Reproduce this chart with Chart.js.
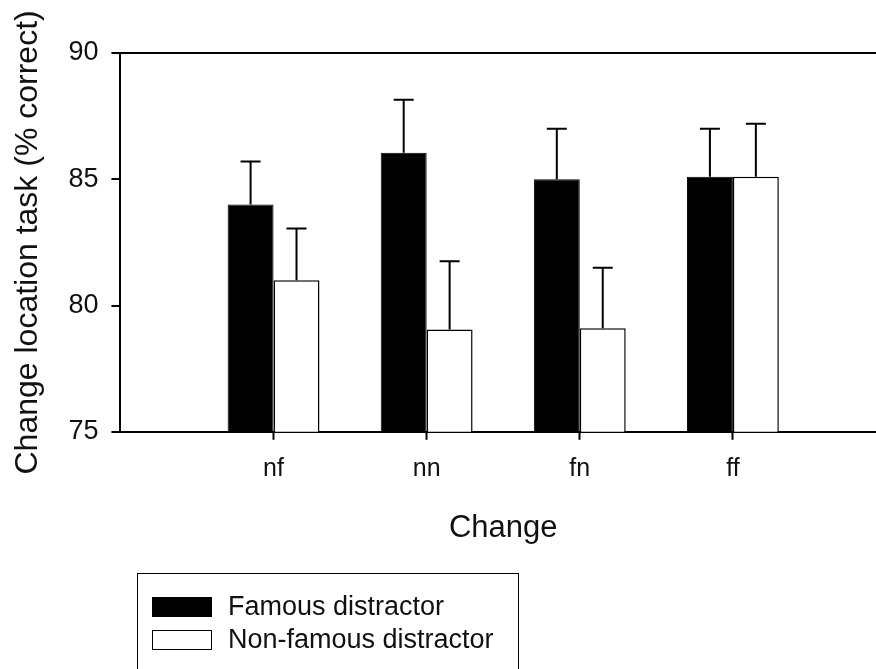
<!DOCTYPE html>
<html>
<head>
<meta charset="utf-8">
<script src="https://cdn.jsdelivr.net/npm/chart.js@4/dist/chart.umd.min.js"></script>
<style>
    html, body { margin: 0; padding: 0; background: #fff; overflow: hidden; }
    #wrap { position: relative; width: 876px; height: 669px; overflow: hidden; }
    #chartBox { position: absolute; left: 0; top: 0; width: 886px; height: 669px; }
    #legend {
        position: absolute; left: 137px; top: 573px; width: 382px; height: 120px;
        border: 1.5px solid #000; box-sizing: border-box;
        font-family: "Liberation Sans", Arial, sans-serif; font-size: 27px; color: #111;
    }
    .item { position: absolute; left: 14px; height: 33px; display: flex; align-items: center; }
    .swatch { width: 60px; height: 20px; box-sizing: border-box; border: 1.5px solid #000; margin-right: 16px; }
</style>
</head>
<body>
<div id="wrap">
    <div id="chartBox"><canvas id="changeChart" width="886" height="669"></canvas></div>
    <div id="legend"></div>
</div>
<script>
// data
const categories = ['nf', 'nn', 'fn', 'ff'];
const famousValues = [84.0, 86.05, 85.0, 85.1];
const famousErrors = [1.7, 2.1, 2.0, 1.9];
const nonFamousValues = [81.0, 79.05, 79.1, 85.1];
const nonFamousErrors = [2.05, 2.7, 2.4, 2.1];
const yTicks = [75, 80, 85, 90];

const seriesLabels = ['Famous distractor', 'Non-famous distractor'];
const fontFamily = '"Liberation Sans", Arial, sans-serif';

function toPoints(values) {
    return values.map((v, i) => ({ x: i + 1, y: v }));
}

// draws the upward-only error bars with a cap
const errorBarPlugin = {
    id: 'errorBars',
    afterDatasetsDraw(chart) {
        const ctx = chart.ctx;
        const yScale = chart.scales.y;
        ctx.save();
        ctx.strokeStyle = '#000';
        ctx.lineWidth = 2;
        chart.data.datasets.forEach((ds, di) => {
            const meta = chart.getDatasetMeta(di);
            meta.data.forEach((bar, i) => {
                const top = yScale.getPixelForValue(ds.data[i].y + ds.errors[i]);
                ctx.beginPath();
                ctx.moveTo(bar.x, bar.y);
                ctx.lineTo(bar.x, top);
                ctx.moveTo(bar.x - 10, top);
                ctx.lineTo(bar.x + 10, top);
                ctx.stroke();
            });
        });
        ctx.restore();
    }
};

const ctx = document.getElementById('changeChart').getContext('2d');
const changeChart = new Chart(ctx, {
    type: 'bar',
    data: {
        datasets: [{
            label: seriesLabels[0],
            data: toPoints(famousValues),
            errors: famousErrors,
            backgroundColor: '#000',
            borderColor: '#000',
            borderWidth: 1
        }, {
            label: seriesLabels[1],
            data: toPoints(nonFamousValues),
            errors: nonFamousErrors,
            backgroundColor: '#fff',
            borderColor: '#000',
            borderWidth: 1.5
        }]
    },
    options: {
        responsive: false,
        animation: false,
        categoryPercentage: 0.6,
        barPercentage: 1.0,
        layout: { padding: { top: 53, right: 0, bottom: 122, left: 9 } },
        plugins: {
            legend: { display: false },
            tooltip: { enabled: false }
        },
        scales: {
            x: {
                type: 'linear',
                min: 0,
                max: 5,
                offset: false,
                afterBuildTicks(scale) {
                    scale.ticks = categories.map((c, i) => ({ value: i + 1 }));
                },
                ticks: {
                    color: '#111',
                    padding: 14,
                    font: { family: fontFamily, size: 25 },
                    callback: (v) => categories[v - 1]
                },
                grid: {
                    offset: false,
                    drawOnChartArea: false,
                    color: '#000',
                    tickLength: 8,
                    tickWidth: 2
                },
                border: { color: '#000', width: 2 },
                title: {
                    display: true,
                    text: 'Change',
                    color: '#111',
                    font: { family: fontFamily, size: 31 },
                    padding: { top: 12, bottom: 0 }
                }
            },
            y: {
                min: 75,
                max: 90,
                afterBuildTicks(scale) {
                    scale.ticks = yTicks.map(v => ({ value: v }));
                },
                ticks: {
                    color: '#111',
                    padding: 13,
                    font: { family: fontFamily, size: 27 }
                },
                grid: {
                    color: (c) => c.tick && c.tick.value === 90 ? '#000' : 'rgba(0,0,0,0)',
                    lineWidth: 2,
                    tickColor: '#000',
                    tickLength: 9,
                    tickWidth: 2
                },
                border: { color: '#000', width: 2 },
                title: {
                    display: true,
                    text: 'Change location task (% correct)',
                    color: '#111',
                    font: { family: fontFamily, size: 32 },
                    padding: { top: 0, bottom: 8 }
                }
            }
        }
    },
    plugins: [errorBarPlugin]
});

// legend box below the plot
const legendEl = document.getElementById('legend');
changeChart.data.datasets.forEach((ds, i) => {
    const item = document.createElement('div');
    item.className = 'item';
    item.style.top = (16 + i * 33) + 'px';
    const sw = document.createElement('span');
    sw.className = 'swatch';
    sw.style.background = ds.backgroundColor;
    const label = document.createElement('span');
    label.textContent = ds.label;
    item.appendChild(sw);
    item.appendChild(label);
    legendEl.appendChild(item);
});
</script>
</body>
</html>
